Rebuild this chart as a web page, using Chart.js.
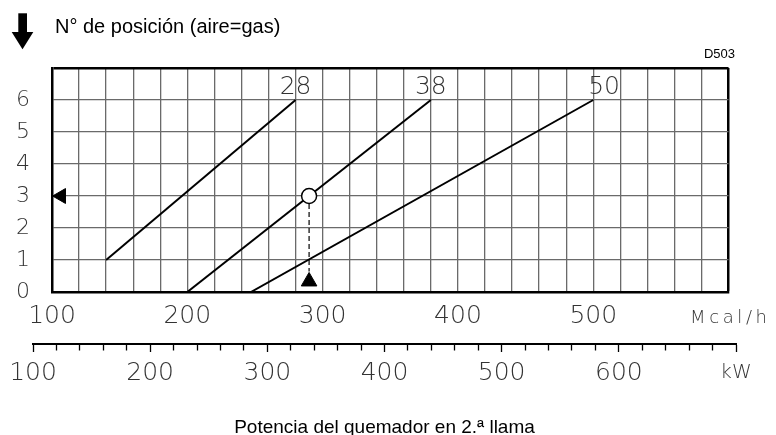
<!DOCTYPE html>
<html>
<head>
<meta charset="utf-8">
<script src="https://cdn.jsdelivr.net/npm/chart.js@4.4.1/dist/chart.umd.min.js"></script>
<style>
  html, body { margin: 0; padding: 0; background: #fff; }
  #wrap { position: relative; width: 776px; height: 435px; }
  #wrap canvas { position: absolute; left: 0; top: 0; }
</style>
</head>
<body>
<div id="wrap">
  <canvas id="main" width="776" height="435"></canvas>
  <canvas id="kw" width="776" height="435"></canvas>
</div>
<script>
// position lines (Mcal/h on x, position number on y)
const curveNames = ['28', '38', '50'];
const curve28X = [140, 280];
const curve28Y = [1, 6];
const curve38X = [200, 380];
const curve38Y = [0, 6];
const curve50X = [247, 500];
const curve50Y = [0, 6];
const curveLabelX = [280, 380, 508];
const curveLabelY = 6.2;

// example reading: 290 Mcal/h on line 38 -> position 3
const opX = [290];
const opY = [3];
const dropX = [290, 290];
const dropY = [3, 0.64];
const upMarkX = [290];
const upMarkY = [0.33];
const leftMarkX = [106.8];
const leftMarkY = [3];

// axes
const mcalMin = 100, mcalMax = 600, mcalStep = 20;
const kwMin = 100, kwMax = 700, kwStep = 20;
const posMin = 0, posMax = 7;

const GRID = '#6a6a6a';
const INK = '#333';
const CAD = 'DejaVu Sans';

const pts = (xs, ys) => xs.map((x, i) => ({ x: x, y: ys[i] }));

const decor = {
  id: 'decor',
  afterDraw(chart) {
    const ctx = chart.ctx;
    const xs = chart.scales.x, ys = chart.scales.y;
    ctx.save();
    // down arrow
    ctx.fillStyle = '#000';
    ctx.fillRect(18.3, 13.3, 8.7, 19);
    ctx.beginPath();
    ctx.moveTo(11.7, 32);
    ctx.lineTo(33.3, 32);
    ctx.lineTo(22.5, 49.3);
    ctx.closePath();
    ctx.fill();

    ctx.font = '20px "Liberation Sans", Arial, sans-serif';
    ctx.textBaseline = 'alphabetic';
    ctx.textAlign = 'left';
    ctx.fillText('N° de posición (aire=gas)', 55, 32.5);

    ctx.font = '13px "Liberation Sans", Arial, sans-serif';
    ctx.textAlign = 'right';
    ctx.fillText('D503', 735, 58.3);

    ctx.font = '200 25px "' + CAD + '"';
    ctx.fillStyle = INK;
    ctx.textAlign = 'center';
    curveNames.forEach((n, i) => {
      ctx.fillText(n, xs.getPixelForValue(curveLabelX[i]), ys.getPixelForValue(curveLabelY));
    });
    ctx.restore();
  }
};

const line = (xs, ys) => ({
  data: pts(xs, ys), showLine: true, borderColor: '#000', borderWidth: 2,
  pointRadius: 0, fill: false
});

new Chart(document.getElementById('main'), {
  type: 'scatter',
  data: {
    datasets: [
      { data: pts(opX, opY), pointStyle: 'circle', pointRadius: 7.5,
        pointBackgroundColor: '#fff', pointBorderColor: '#000', pointBorderWidth: 1.5 },
      { data: pts(leftMarkX, leftMarkY), pointStyle: 'triangle', pointRotation: 270, pointRadius: 8.6,
        pointBackgroundColor: '#000', pointBorderColor: '#000', pointBorderWidth: 1 },
      { data: pts(upMarkX, upMarkY), pointStyle: 'triangle', pointRadius: 9,
        pointBackgroundColor: '#000', pointBorderColor: '#000', pointBorderWidth: 1 },
      { data: pts(dropX, dropY), showLine: true, borderColor: '#000', borderWidth: 1.2,
        borderDash: [5, 3], pointRadius: 0 },
      line(curve28X, curve28Y),
      line(curve38X, curve38Y),
      line(curve50X, curve50Y)
    ]
  },
  options: {
    responsive: false,
    animation: false,
    devicePixelRatio: 1,
    layout: { padding: { top: 68, right: 45, bottom: 0, left: 0 } },
    plugins: { legend: { display: false }, tooltip: { enabled: false } },
    scales: {
      x: {
        type: 'linear', min: mcalMin, max: mcalMax,
        afterFit: s => { s.height = 143; },
        border: { color: '#000', width: 2.5 },
        grid: {
          drawTicks: false,
          color: c => (c.tick && c.tick.value === mcalMax) ? '#000' : GRID,
          lineWidth: c => (c.tick && c.tick.value === mcalMax) ? 2.5 : 1.3
        },
        ticks: {
          stepSize: mcalStep, maxTicksLimit: 100, autoSkip: false, maxRotation: 0,
          padding: 9, color: INK,
          font: c => (c.tick && c.tick.value === mcalMax)
            ? { family: CAD, size: 18, weight: 200, lineHeight: 1.88 }
            : { family: CAD, size: 25, weight: 200 },
          callback: v => {
            if (v === mcalMax) return 'M\u2009c\u2009a\u2009l\u2009/\u2009h';
            return Math.round(v) % 100 === 0 ? String(v) : '';
          }
        }
      },
      y: {
        type: 'linear', min: posMin, max: posMax,
        afterFit: s => { s.width = 52; },
        border: { color: '#000', width: 2.5 },
        grid: {
          drawTicks: false,
          color: c => (c.tick && c.tick.value === posMax) ? '#000' : GRID,
          lineWidth: c => (c.tick && c.tick.value === posMax) ? 2.5 : 1.3
        },
        ticks: {
          stepSize: 1, padding: 22, color: INK,
          font: { family: CAD, size: 22, weight: 200 },
          callback: v => v === posMax ? '' : String(v)
        }
      }
    }
  },
  plugins: [decor]
});

// kW scale, drawn as its own axis below the Mcal/h scale
new Chart(document.getElementById('kw'), {
  type: 'scatter',
  data: { datasets: [{ data: [] }] },
  options: {
    responsive: false,
    animation: false,
    devicePixelRatio: 1,
    layout: { padding: { top: 340, right: 40, bottom: 0, left: 33 } },
    plugins: { legend: { display: false }, tooltip: { enabled: false } },
    scales: {
      x: {
        type: 'linear', min: kwMin, max: kwMax,
        afterFit: s => { s.height = 91; },
        border: { color: '#000', width: 2 },
        grid: {
          drawOnChartArea: false, drawTicks: true, tickLength: 8,
          tickColor: '#000', tickWidth: 1.3,
          tickBorderDash: c => (c.tick && Math.round(c.tick.value) % 100 === 0) ? [] : [5.5, 20]
        },
        ticks: {
          stepSize: kwStep, maxTicksLimit: 100, autoSkip: false, maxRotation: 0,
          padding: 6, color: INK,
          font: c => (c.tick && c.tick.value === kwMax)
            ? { family: CAD, size: 20, weight: 200, lineHeight: 1.43 }
            : { family: CAD, size: 25, weight: 200 },
          callback: v => {
            if (v === kwMax) return 'kW';
            return Math.round(v) % 100 === 0 ? String(v) : '';
          }
        },
        title: {
          display: true, text: 'Potencia del quemador en 2.ª llama', color: '#000',
          font: { family: 'Liberation Sans', size: 19, lineHeight: 0.8 },
          padding: { top: 0, bottom: 0 }
        }
      },
      y: { display: false, min: 0, max: 1 }
    }
  }
});
</script>
</body>
</html>
